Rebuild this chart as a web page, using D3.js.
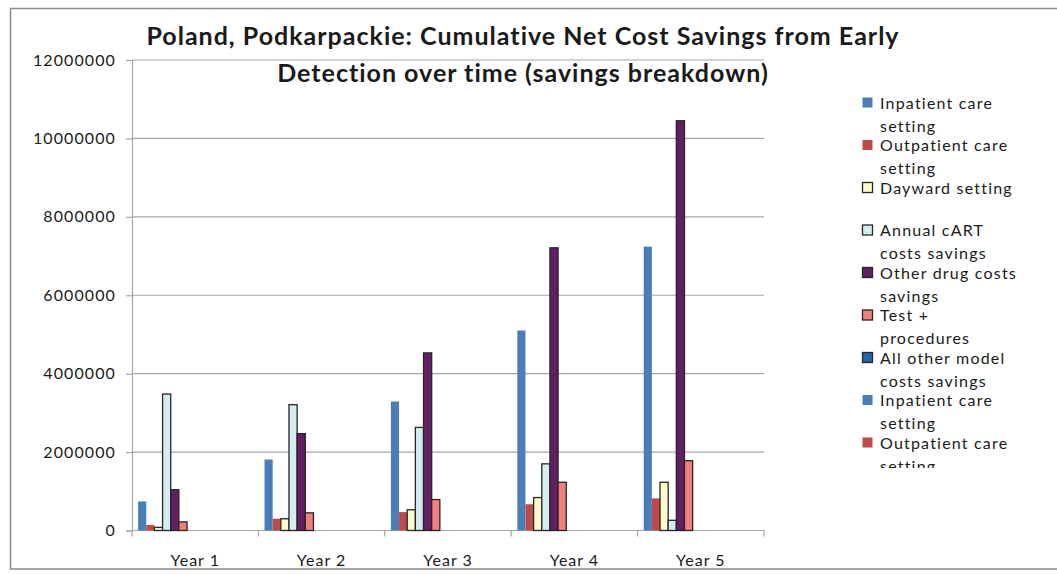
<!DOCTYPE html>
<html>
<head>
<meta charset="utf-8">
<script src="https://cdn.jsdelivr.net/npm/d3@7"></script>
<style>
  html, body { margin: 0; padding: 0; background: #fff; }
  svg { display: block; font-family: Lato, "Liberation Sans", sans-serif; }
</style>
</head>
<body>
<div id="chart"></div>
<script>
// categories + series
const categories = ['Year 1', 'Year 2', 'Year 3', 'Year 4', 'Year 5'];
const seriesNames = [
  'Inpatient care setting', 'Outpatient care setting', 'Dayward setting',
  'Annual cART costs savings', 'Other drug costs savings', 'Test + procedures',
  'All other model costs savings',
  'Inpatient care setting', 'Outpatient care setting', 'Dayward setting',
  'Annual cART costs savings', 'Other drug costs savings', 'Test + procedures',
  'All other model costs savings'
];
// legend text is wrapped the way the original legend wraps it
const legendLines = [
  ['Inpatient care', 'setting'], ['Outpatient care', 'setting'], ['Dayward setting'],
  ['Annual cART', 'costs savings'], ['Other drug costs', 'savings'], ['Test +', 'procedures'],
  ['All other model', 'costs savings'],
  ['Inpatient care', 'setting'], ['Outpatient care', 'setting'], ['Dayward setting'],
  ['Annual cART', 'costs savings'], ['Other drug costs', 'savings'], ['Test +', 'procedures'],
  ['All other model', 'costs savings']
];
const inpatient = [740000, 1810000, 3290000, 5100000, 7240000];
const outpatient = [140000, 300000, 470000, 670000, 820000];
const dayward = [80000, 300000, 530000, 840000, 1230000];
const annualCart = [3480000, 3210000, 2630000, 1700000, 260000];
const otherDrug = [1040000, 2470000, 4530000, 7210000, 10450000];
const testProcedures = [220000, 450000, 790000, 1230000, 1780000];
const allOther = [0, 0, 0, 0, 0];
const inpatient2 = [0, 0, 0, 0, 0];
const outpatient2 = [0, 0, 0, 0, 0];
const dayward2 = [0, 0, 0, 0, 0];
const annualCart2 = [0, 0, 0, 0, 0];
const otherDrug2 = [0, 0, 0, 0, 0];
const testProcedures2 = [0, 0, 0, 0, 0];
const allOther2 = [0, 0, 0, 0, 0];
const yTicks = [0, 2000000, 4000000, 6000000, 8000000, 10000000, 12000000];

const seriesValues = [inpatient, outpatient, dayward, annualCart, otherDrug, testProcedures, allOther,
  inpatient2, outpatient2, dayward2, annualCart2, otherDrug2, testProcedures2, allOther2];

const fills = ['#4a7ebb', '#be4b48', '#fffbcc', '#d5edf2', '#631f61', '#f27f7e', '#2262ae'];
const stroked = [false, false, true, true, true, true, true];

const W = 1057, H = 574;
const m = { t: 60, r: 293, b: 43.5, l: 132 };

const svg = d3.select('#chart').append('svg')
  .attr('width', W).attr('height', H);

// outer chart frame
svg.append('rect')
  .attr('x', 10.5).attr('y', 8.5)
  .attr('width', 1060).attr('height', 560.5)
  .attr('fill', 'none').attr('stroke', '#8c8c8c').attr('stroke-width', 1.5);

const x0 = d3.scaleBand().domain(categories).range([m.l, W - m.r]).padding(0);
const x1 = d3.scaleBand().domain(d3.range(seriesNames.length))
  .range([0, x0.bandwidth()]).paddingInner(0).paddingOuter(0.75);
const y = d3.scaleLinear().domain([0, 12000000]).range([H - m.b, m.t]);

// gridlines
svg.append('g').selectAll('line')
  .data(yTicks.slice(1))
  .join('line')
  .attr('x1', m.l).attr('x2', W - m.r)
  .attr('y1', d => y(d)).attr('y2', d => y(d))
  .attr('stroke', '#a6a6a6').attr('stroke-width', 1.2);

// y axis
const yAxis = svg.append('g')
  .attr('transform', `translate(${m.l},0)`)
  .call(d3.axisLeft(y).tickValues(yTicks).tickSize(6).tickPadding(10).tickFormat(d3.format('d')));
yAxis.select('.domain').attr('stroke', '#a6a6a6').attr('stroke-width', 1.2);
yAxis.selectAll('line').attr('stroke', '#a6a6a6').attr('stroke-width', 1.2);
yAxis.selectAll('text')
  .attr('font-size', 16).attr('fill', '#1a1a1a')
  .attr('font-family', 'Lato, sans-serif')
  .style('letter-spacing', '1.1px');

// x axis
const xAxis = svg.append('g')
  .attr('transform', `translate(0,${y(0)})`)
  .call(d3.axisBottom(x0).tickSize(0).tickPadding(24));
xAxis.select('.domain').remove();
xAxis.append('line')
  .attr('x1', m.l).attr('x2', W - m.r)
  .attr('stroke', '#a6a6a6').attr('stroke-width', 1.2);
xAxis.selectAll('.catTick')
  .data(categories.concat(['end']))
  .join('line')
  .attr('class', 'catTick')
  .attr('x1', (d, i) => i < categories.length ? x0(d) : W - m.r)
  .attr('x2', (d, i) => i < categories.length ? x0(d) : W - m.r)
  .attr('y1', 0).attr('y2', 6)
  .attr('stroke', '#a6a6a6').attr('stroke-width', 1.2);
xAxis.selectAll('.tick text')
  .attr('font-size', 16).attr('fill', '#1a1a1a')
  .attr('font-family', 'Lato, sans-serif')
  .style('letter-spacing', '1px');

// bars
const barData = [];
seriesValues.forEach((vals, s) => {
  vals.forEach((v, c) => barData.push({ s, c: categories[c], v }));
});
svg.append('g').selectAll('rect')
  .data(barData.filter(d => d.v > 0))
  .join('rect')
  .attr('x', d => x0(d.c) + x1(d.s))
  .attr('y', d => y(d.v))
  .attr('width', x1.bandwidth())
  .attr('height', d => y(0) - y(d.v))
  .attr('fill', d => fills[d.s % 7])
  .attr('stroke', d => stroked[d.s % 7] ? '#262626' : 'none')
  .attr('stroke-width', 1.3);

// title
const title = svg.append('text')
  .attr('text-anchor', 'middle')
  .attr('font-size', 25).attr('font-weight', 700).attr('fill', '#1a1a1a')
  .style('letter-spacing', '1px');
title.append('tspan').attr('x', 523).attr('y', 45)
  .text('Poland, Podkarpackie: Cumulative Net Cost Savings from Early');
title.append('tspan').attr('x', 523).attr('y', 82)
  .text('Detection over time (savings breakdown)');

// legend (clipped like the original)
svg.append('clipPath').attr('id', 'legClip')
  .append('rect').attr('x', 850).attr('y', 85).attr('width', 207).attr('height', 383);
const leg = svg.append('g').attr('clip-path', 'url(#legClip)');
const item = leg.selectAll('g')
  .data(seriesNames)
  .join('g')
  .attr('transform', (d, i) => `translate(862,${102.5 + i * 42.5})`);
item.append('rect')
  .attr('x', 0.5).attr('y', -5)
  .attr('width', 10).attr('height', 10)
  .attr('fill', (d, i) => fills[i % 7])
  .attr('stroke', (d, i) => stroked[i % 7] ? '#262626' : 'none')
  .attr('stroke-width', 1.3);
item.each(function (d, i) {
  const t = d3.select(this).append('text')
    .attr('font-size', 16).attr('fill', '#1a1a1a')
    .style('letter-spacing', '1.2px');
  legendLines[i].forEach((line, k) => {
    t.append('tspan').attr('x', 18).attr('y', 6 + k * 23).text(line);
  });
});
</script>
</body>
</html>
